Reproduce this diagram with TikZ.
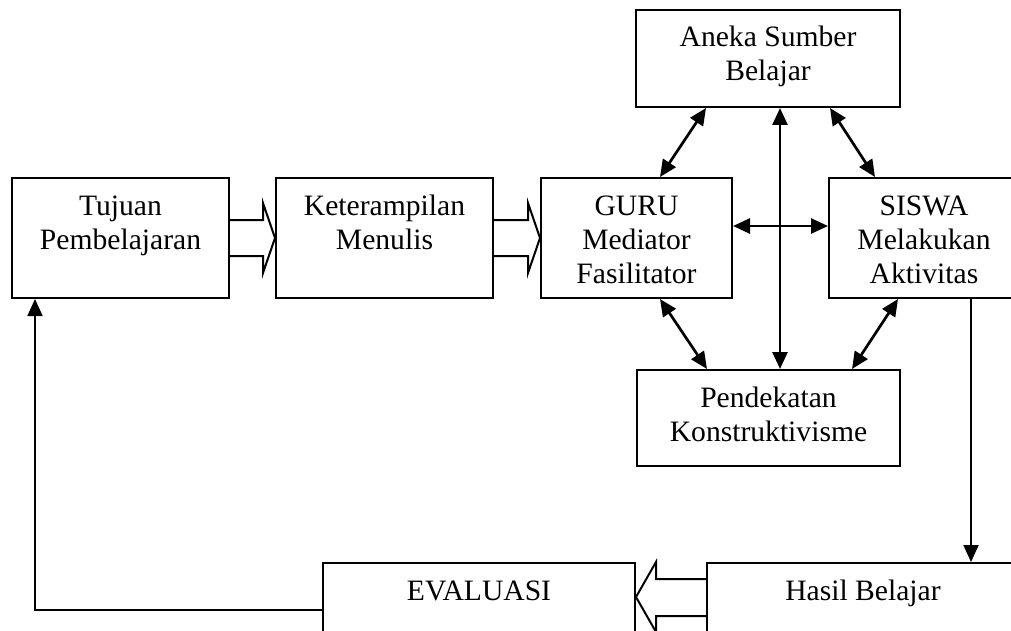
\documentclass[tikz,border=0pt]{standalone}
\usepackage{fontspec}
\setmainfont{Liberation Serif}
\usetikzlibrary{calc,arrows.meta}
\begin{document}
\begin{tikzpicture}[x=0.5pt,y=-0.5pt,
  box/.style={draw,line width=1pt,rectangle,inner sep=0pt,anchor=north west},
  txt/.style={font=\fontsize{14.8}{17}\selectfont,align=center,anchor=base,inner sep=0pt},
  tip/.tip={Triangle[length=8.5pt,width=7.5pt]},
  con/.style={line width=1.35pt,tip-tip},
  oneway/.style={line width=1pt,-tip},
  blk/.style={line width=1pt,line join=miter}
]
\useasboundingbox (0,0) rectangle (1011,631);
\clip (0,0) rectangle (1011,631);

% boxes
\node[box,minimum width=108.5pt,minimum height=60pt] (tujuan) at (11,177) {};
\node[box,minimum width=108.5pt,minimum height=60pt] (ket) at (275,177) {};
\node[box,minimum width=95.5pt,minimum height=60pt] (guru) at (540,177) {};
\node[box,minimum width=95pt,minimum height=60pt] (siswa) at (828,177) {};
\node[box,minimum width=132pt,minimum height=48.5pt] (aneka) at (635,9) {};
\node[box,minimum width=131.5pt,minimum height=48pt] (pend) at (636,369) {};
\node[box,minimum width=156pt,minimum height=60pt] (eval) at (322,562) {};
\node[box,minimum width=156pt,minimum height=60pt] (hasil) at (706,562) {};

% texts (base anchor = baseline of last line)
\node[txt] (tTujuan) at ($(tujuan.north)+(0,72)$) {Tujuan\\Pembelajaran};
\node[txt] (tKet) at ($(ket.north)+(0,72)$) {Keterampilan\\Menulis};
\node[txt] (tGuru) at ($(guru.north)+(0,106)$) {GURU\\Mediator\\Fasilitator};
\node[txt] (tSiswa) at ($(siswa.north)+(0,106)$) {SISWA\\Melakukan\\Aktivitas};
\node[txt] (tAneka) at ($(aneka.north)+(0,72)$) {Aneka Sumber\\Belajar};
\node[txt] (tPend) at ($(pend.north)+(0,72)$) {Pendekatan\\Konstruktivisme};
\node[txt] (tEval) at ($(eval.north)+(0,38)$) {EVALUASI};
\node[txt] (tHasil) at ($(hasil.north)+(0,38)$) {Hasil Belajar};

% block arrows
\draw[blk] ($(tujuan.east)+(0,-18)$) -- ($(ket.west)+(-12,-18)$) -- ++(0,-17)
  -- (ket.west) -- ($(ket.west)+(-12,35)$) -- ++(0,-17) -- ($(tujuan.east)+(0,18)$);
\draw[blk] ($(ket.east)+(0,-18)$) -- ($(guru.west)+(-12,-18)$) -- ++(0,-17)
  -- (guru.west) -- ($(guru.west)+(-12,35)$) -- ++(0,-17) -- ($(ket.east)+(0,18)$);
\draw[blk] ($(hasil.north west)+(0,17)$) -- ($(eval.north east)+(20,17)$) -- ++(0,-17)
  -- ($(eval.north east)+(0,35)$) -- ($(eval.north east)+(20,70)$) -- ++(0,-16)
  -- ($(hasil.north west)+(0,54)$);

% connectors
\draw[con] ($(aneka.south west)+(71,0)$) -- ($(guru.north west)+(120,0)$);
\draw[con] ($(aneka.south west)+(195,0)$) -- ($(siswa.north west)+(47,0)$);
\draw[con] ($(aneka.south west)+(145,0)$) -- ($(pend.north west)+(144,0)$);
\draw[con] ($(guru.north east)+(0,49)$) -- ($(siswa.north west)+(0,49)$);
\draw[con] ($(guru.south west)+(120,0)$) -- ($(pend.north west)+(71,0)$);
\draw[con] ($(siswa.south west)+(70,0)$) -- ($(pend.north west)+(216,0)$);
\draw[oneway] ($(siswa.south west)+(143,0)$) -- ($(hasil.north west)+(265,0)$);
\draw[oneway,line width=0.9pt] ($(eval.north west)+(0,48)$) -| ($(tujuan.south west)+(24,0)$);
\end{tikzpicture}
\end{document}
